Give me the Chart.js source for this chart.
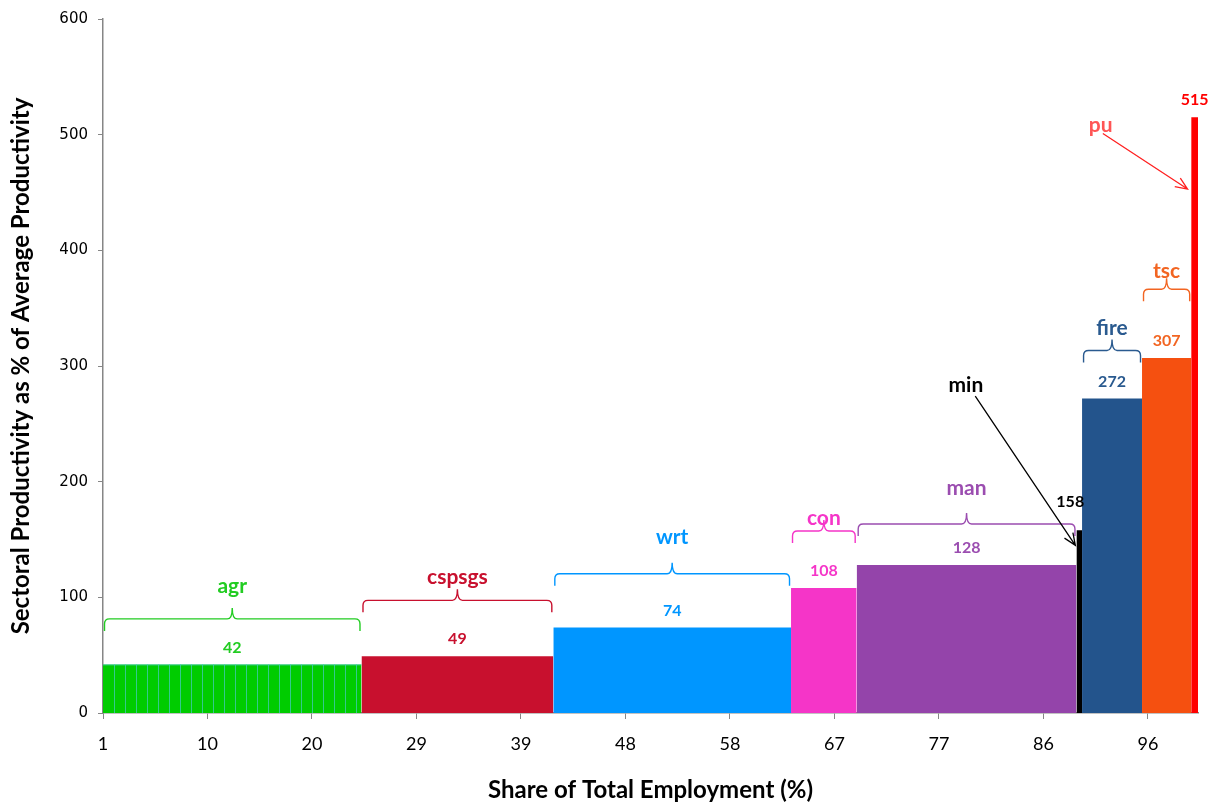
<!DOCTYPE html>
<html>
<head>
<meta charset="utf-8">
<script src="https://cdn.jsdelivr.net/npm/chart.js@4.4.1/dist/chart.umd.min.js"></script>
<style>
  html, body { margin: 0; padding: 0; background: #fff; }
  #wrap { width: 1219px; height: 809px; position: relative; }
</style>
</head>
<body>
<div id="wrap"><canvas id="chart"></canvas></div>
<script>
// sectors, employment share (width, %) and productivity (% of average)
const sectors = ['agr', 'cspsgs', 'wrt', 'con', 'man', 'min', 'fire', 'tsc', 'pu'];
const employmentShare = [23.5, 17.44, 21.61, 5.97, 19.98, 0.51, 5.45, 4.47, 0.62];
const productivity = [42, 49, 74, 108, 128, 158, 272, 307, 515];
const xTickLabels = ['1', '10', '20', '29', '39', '48', '58', '67', '77', '86', '96'];
const xTickValues = [1, 10.5, 20, 29.5, 39, 48.5, 58, 67.5, 77, 86.5, 96];
const yTickValues = [0, 100, 200, 300, 400, 500, 600];

const barColors = ['#00CC00', '#C8102E', '#0096FF', '#F535C8', '#9444AA', '#000000', '#23548C', '#F55010', '#FF0000'];
const textColors = ['#22CC22', '#C8102E', '#0096FF', '#F535C8', '#9B4DB0', '#000000', '#2A5A8F', '#F26522', '#FF0000'];

// brace level and sector-name level (y units); null = uses an arrow callout instead
const braceLevel = [71, 87, 110, 147, 153, null, 303, 356, null];
const nameLevel = [110, 117, 152, 168, 194, null, 333, 382, null];
const callouts = {
  min: { label: [79.45, 283], from: [80.3, 274], to: [89.4, 145], color: '#000000', text: '#000000' },
  pu: { label: [91.7, 508], from: [91.9, 501], to: [99.6, 453], color: '#FF2020', text: '#FF5555' }
};

const X_START = 1;
const starts = [];
let acc = X_START;
employmentShare.forEach(function(w) { starts.push(acc); acc += w; });
const X_END = acc;

const datasets = sectors.map(function(s, i) {
  return {
    label: s,
    data: [{ x: starts[i], y: productivity[i] }, { x: starts[i] + employmentShare[i], y: productivity[i] }],
    borderWidth: 0,
    borderColor: barColors[i],
    backgroundColor: barColors[i],
    fill: 'origin',
    pointRadius: 0,
    tension: 0
  };
});

function brace(ctx, x1, x2, yTip, color) {
  const rise = 12, peak = 11, r = 5;
  const yMid = yTip - rise, cx = (x1 + x2) / 2;
  ctx.save();
  ctx.strokeStyle = color; ctx.lineWidth = 1.4;
  ctx.beginPath();
  ctx.moveTo(x1, yTip);
  ctx.lineTo(x1, yMid + r);
  ctx.quadraticCurveTo(x1, yMid, x1 + r, yMid);
  ctx.lineTo(cx - r, yMid);
  ctx.quadraticCurveTo(cx, yMid, cx, yMid - peak);
  ctx.quadraticCurveTo(cx, yMid, cx + r, yMid);
  ctx.lineTo(x2 - r, yMid);
  ctx.quadraticCurveTo(x2, yMid, x2, yMid + r);
  ctx.lineTo(x2, yTip);
  ctx.stroke();
  ctx.restore();
}

function arrow(ctx, x1, y1, x2, y2, color) {
  const ang = Math.atan2(y2 - y1, x2 - x1), head = 13;
  ctx.save();
  ctx.strokeStyle = color; ctx.lineWidth = 1.3;
  ctx.beginPath();
  ctx.moveTo(x1, y1); ctx.lineTo(x2, y2);
  ctx.moveTo(x2 - head * Math.cos(ang - 0.4), y2 - head * Math.sin(ang - 0.4));
  ctx.lineTo(x2, y2);
  ctx.lineTo(x2 - head * Math.cos(ang + 0.4), y2 - head * Math.sin(ang + 0.4));
  ctx.stroke();
  ctx.restore();
}

const annotations = {
  id: 'annotations',
  afterDatasetsDraw(chart) {
    const ctx = chart.ctx, xs = chart.scales.x, ys = chart.scales.y;
    // agr is made of many one-unit bars: thin separators
    ctx.save();
    ctx.strokeStyle = 'rgba(70,200,190,0.75)'; ctx.lineWidth = 1;
    for (let v = Math.ceil(starts[0]) + 1; v < starts[0] + employmentShare[0]; v++) {
      const px = Math.round(xs.getPixelForValue(v)) + 0.5;
      ctx.beginPath(); ctx.moveTo(px, ys.getPixelForValue(0)); ctx.lineTo(px, ys.getPixelForValue(productivity[0])); ctx.stroke();
    }
    ctx.beginPath();
    ctx.moveTo(xs.getPixelForValue(starts[0]), ys.getPixelForValue(productivity[0]) + 0.5);
    ctx.lineTo(xs.getPixelForValue(starts[0] + employmentShare[0]), ys.getPixelForValue(productivity[0]) + 0.5);
    ctx.stroke();
    ctx.restore();

    ctx.save();
    ctx.textAlign = 'center'; ctx.textBaseline = 'middle';
    sectors.forEach(function(s, i) {
      const x1 = xs.getPixelForValue(starts[i]);
      const x2 = xs.getPixelForValue(starts[i] + employmentShare[i]);
      const cx = (x1 + x2) / 2;
      const top = ys.getPixelForValue(productivity[i]);
      // value labels
      ctx.font = 'bold 16px Lato';
      ctx.fillStyle = textColors[i];
      let vx = cx, vy = top - 17;
      if (s === 'min') { vx = cx - 9; vy = top - 28; }
      ctx.fillText(String(productivity[i]), vx, vy);
      // braces + names
      if (braceLevel[i] !== null) {
        brace(ctx, x1 + 1.5, x2 - 1.5, ys.getPixelForValue(braceLevel[i]), textColors[i]);
        ctx.font = 'bold 21px Lato';
        ctx.fillStyle = textColors[i];
        ctx.fillText(s, cx, ys.getPixelForValue(nameLevel[i]));
      }
    });
    Object.keys(callouts).forEach(function(k) {
      const c = callouts[k];
      ctx.font = 'bold 21px Lato';
      ctx.fillStyle = c.text;
      ctx.fillText(k, xs.getPixelForValue(c.label[0]), ys.getPixelForValue(c.label[1]));
      arrow(ctx, xs.getPixelForValue(c.from[0]), ys.getPixelForValue(c.from[1]),
        xs.getPixelForValue(c.to[0]), ys.getPixelForValue(c.to[1]), c.color);
    });
    ctx.restore();
  }
};

new Chart(document.getElementById('chart').getContext('2d'), {
  type: 'line',
  data: { datasets: datasets },
  plugins: [annotations],
  options: {
    responsive: true, maintainAspectRatio: false, animation: false,
    layout: { padding: { top: 17, right: 21, bottom: 0, left: 0 } },
    plugins: { legend: { display: false }, tooltip: { enabled: false } },
    scales: {
      x: {
        type: 'linear', min: X_START, max: X_END,
        afterBuildTicks: function(axis) { axis.ticks = xTickValues.map(function(v) { return { value: v }; }); },
        afterFit: function(axis) { axis.height = 96; },
        ticks: {
          autoSkip: false, maxRotation: 0, padding: 14,
          font: { family: 'Lato', size: 18 }, color: '#000',
          callback: function(v, i) { return xTickLabels[i]; }
        },
        grid: { display: true, drawOnChartArea: false, drawTicks: true, tickLength: 6, color: '#868686' },
        border: { display: true, color: '#868686', width: 1.5 },
        title: {
          display: true, text: 'Share of Total Employment (%)', color: '#000',
          font: { family: 'Lato', size: 24, weight: 'bold' }, padding: { top: 0, bottom: 4 }
        }
      },
      y: {
        min: 0, max: 600,
        afterBuildTicks: function(axis) { axis.ticks = yTickValues.map(function(v) { return { value: v }; }); },
        afterFit: function(axis) { axis.width = 103; },
        ticks: { padding: 10, font: { family: 'DejaVu Sans', size: 15 }, color: '#000' },
        grid: { display: true, drawOnChartArea: false, drawTicks: true, tickLength: 5, color: '#868686' },
        border: { display: true, color: '#868686', width: 1.5 },
        title: {
          display: true, text: 'Sectoral Productivity as % of Average Productivity', color: '#000',
          font: { family: 'Lato', size: 24, weight: 'bold' }, padding: { top: 7, bottom: 0 }
        }
      }
    }
  }
});
</script>
</body>
</html>
